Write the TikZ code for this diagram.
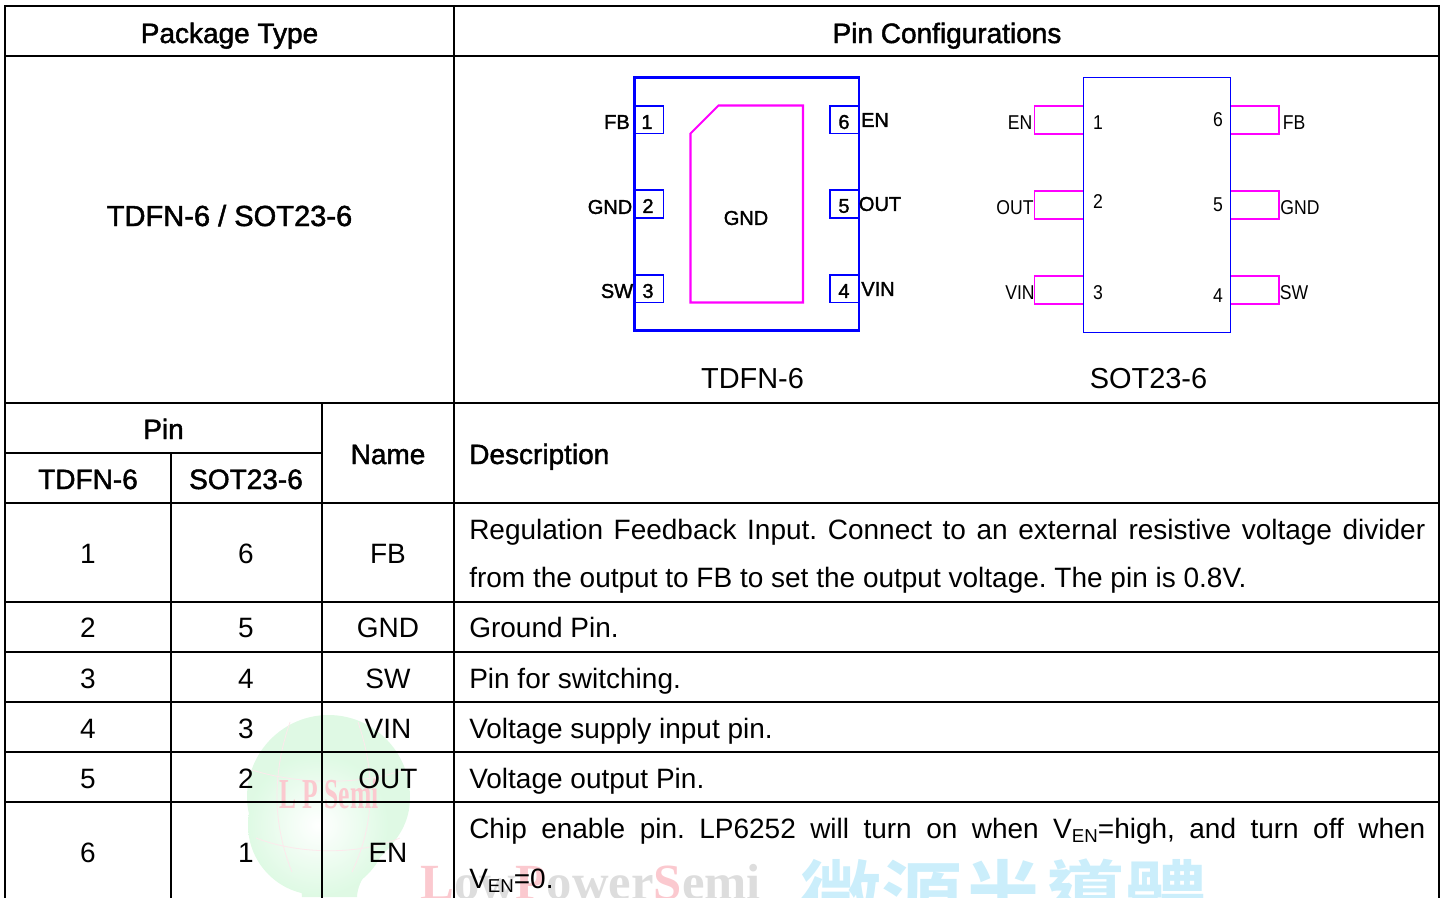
\documentclass[tikz,border=0pt]{standalone}
\usepackage{fontspec}
\setmainfont{Liberation Sans}
\newfontfamily\headfont[FakeBold=1.6]{Liberation Sans}
\newfontfamily\narrowfont[FakeStretch=0.88]{Liberation Sans}
\newfontfamily\serifmark{Liberation Serif Bold}
\newfontfamily\serifnarrow[FakeStretch=0.6]{Liberation Serif Bold}
\newfontfamily\cjkmark{Noto Sans CJK TC Bold}
\definecolor{pinblue}{HTML}{0000FF}
\definecolor{pinmagenta}{HTML}{FF00FF}
\definecolor{markgreen}{HTML}{C4F5CE}
\definecolor{markpink}{HTML}{FBC9CF}
\definecolor{markgray}{HTML}{DDDDDD}
\definecolor{markblue}{HTML}{CBEEFB}
\newcommand{\spreadline}[1]{\makebox[717pt][s]{#1}}
\newcommand{\vensub}{V\raisebox{-3.2pt}{\fontsize{14}{14}\selectfont EN}}
\newcommand{\pk}[1]{\textcolor{markpink}{#1}}
\frenchspacing
\tikzset{
	rule/.style={line width=1.5pt},
	bodytext/.style={inner sep=0, anchor=base, font=\fontsize{21}{21}\selectfont},
	desctext/.style={bodytext, anchor=base west},
	headtext/.style={bodytext, font=\fontsize{21}{21}\selectfont\headfont},
	headleft/.style={headtext, anchor=base west},
	boldpin/.style={inner sep=0, font=\fontsize{15}{15}\selectfont\headfont},
	thinpin/.style={inner sep=0, font=\fontsize{15}{15}\selectfont\narrowfont},
	capname/.style={inner sep=0, anchor=base, font=\fontsize{21.7}{21.7}\selectfont},
	padline/.style={line width=0.85pt},
	bodyline/.style={line width=1.55pt},
}
\begin{document}
\begin{tikzpicture}[x=0.75pt, y=-0.75pt]
	\useasboundingbox (0,0) rectangle (1443,897);
	\clip (0,0) rectangle (1443,897);

	% Draw the watermark first
	\fill[markgreen!55] (302,897) .. controls (300,860) and (247,850) .. (247,797)
		arc[start angle=180, end angle=360, x radius=81.5, y radius=82]
		.. controls (410,850) and (359,860) .. (357,897) -- cycle;
	\shade[inner color=white, outer color=markgreen!55] (318,825) circle (70);
	\draw[markpink!40, line width=0.6pt] (290,722) .. controls (270,780) and (275,830) .. (292,872);
	\draw[markpink!40, line width=0.6pt] (358,722) .. controls (378,780) and (372,830) .. (352,872);
	\draw[markpink!40, line width=0.6pt] (252,770) .. controls (300,785) and (360,785) .. (404,770);
	\draw[markpink!40, line width=0.6pt] (256,838) .. controls (300,855) and (360,855) .. (400,838);
	\node[inner sep=0, text=markpink, font=\fontsize{32}{32}\selectfont\serifnarrow] (markLP) at (329,794) {L P Semi};
	\node[inner sep=0, anchor=base west, text=markgray, font=\fontsize{38}{38}\selectfont\serifmark] (markLow) at (420,899) {\pk{L}ow\pk{P}ower\pk{S}emi};
	\node[inner sep=0, anchor=west, text=markblue, font=\fontsize{61}{61}\selectfont\cjkmark] (markCn) at (800,897) {微源半導體};

	% Draw the table lines
	\draw[rule] (5,6) rectangle (1439,910);
	\draw[rule] (454,6) -- (454,910);
	\draw[rule] (5,56) -- (1439,56);
	\draw[rule] (5,403) -- (1439,403);
	\draw[rule] (5,453) -- (322,453);
	\draw[rule] (5,503) -- (1439,503);
	\draw[rule] (5,602) -- (1439,602);
	\draw[rule] (5,652) -- (1439,652);
	\draw[rule] (5,702) -- (1439,702);
	\draw[rule] (5,752) -- (1439,752);
	\draw[rule] (5,802) -- (1439,802);
	\draw[rule] (322,403) -- (322,910);
	\draw[rule] (171,453) -- (171,910);

	% Header cells
	\node[headtext] (pkgHead) at (229.5,43) {Package Type};
	\node[headtext] (cfgHead) at (947,43) {Pin Configurations};
	\node[headtext, font=\fontsize{21.8}{21.8}\selectfont\headfont] (pkgType) at (229.5,226) {TDFN-6 / SOT23-6};
	\node[headtext] (pinHead) at (163.5,439) {Pin};
	\node[headtext] (nameHead) at (388,464) {Name};
	\node[headleft] (descHead) at (469,464) {Description};
	\node[headtext] (tdfnHead) at (88,489) {TDFN-6};
	\node[headtext] (sotHead) at (246,489) {SOT23-6};

	% Draw the TDFN package
	\draw[pinblue, padline] (635,106) rectangle (663.5,133.5);
	\draw[pinblue, padline] (635,190) rectangle (663.5,218);
	\draw[pinblue, padline] (635,275) rectangle (663.5,302.5);
	\draw[pinblue, padline] (830,106) rectangle (859,133.5);
	\draw[pinblue, padline] (830,190) rectangle (859,218);
	\draw[pinblue, padline] (830,275) rectangle (859,302.5);
	\draw[pinblue, bodyline] (634.5,77.5) rectangle (859,330.5);
	\draw[pinmagenta, bodyline] (690.5,133.5) -- (718.5,105.5) -- (803,105.5) -- (803,302.5) -- (690.5,302.5) -- cycle;

	\node[boldpin] (tdfnFB) at (617,122) {FB};
	\node[boldpin] (tdfnA) at (647,122) {1};
	\node[boldpin] (tdfnGNDa) at (610,207) {GND};
	\node[boldpin] (tdfnB) at (648,206) {2};
	\node[boldpin] (tdfnSW) at (617,291) {SW};
	\node[boldpin] (tdfnC) at (648,291) {3};
	\node[boldpin] (tdfnF) at (844,122) {6};
	\node[boldpin] (tdfnEN) at (875,120) {EN};
	\node[boldpin] (tdfnE) at (844,206) {5};
	\node[boldpin] (tdfnOUT) at (880,204) {OUT};
	\node[boldpin] (tdfnD) at (844,291) {4};
	\node[boldpin] (tdfnVIN) at (878,289) {VIN};
	\node[boldpin] (tdfnGNDb) at (746,218) {GND};
	\node[capname] (tdfnCap) at (752.5,388) {TDFN-6};

	% Draw the SOT package
	\draw[pinmagenta, padline] (1034.5,106) rectangle (1083.7,134);
	\draw[pinmagenta, padline] (1034.5,191) rectangle (1083.7,219);
	\draw[pinmagenta, padline] (1034.5,276) rectangle (1083.7,304);
	\draw[pinmagenta, padline] (1230.3,106) rectangle (1279,134);
	\draw[pinmagenta, padline] (1230.3,191) rectangle (1279,219);
	\draw[pinmagenta, padline] (1230.3,276) rectangle (1279,304);
	\draw[pinblue, padline] (1083.7,77.5) rectangle (1230.3,332.5);

	\node[thinpin] (sotEN) at (1020,122.5) {EN};
	\node[thinpin] (sotA) at (1098,122.5) {1};
	\node[thinpin] (sotF) at (1218,120) {6};
	\node[thinpin] (sotFB) at (1294,122.5) {FB};
	\node[thinpin] (sotOUT) at (1015,207.5) {OUT};
	\node[thinpin] (sotB) at (1098,201.5) {2};
	\node[thinpin] (sotE) at (1218,204.5) {5};
	\node[thinpin] (sotGND) at (1300,207.5) {GND};
	\node[thinpin] (sotVIN) at (1020,292.5) {VIN};
	\node[thinpin] (sotC) at (1098,292.5) {3};
	\node[thinpin] (sotD) at (1218,295.5) {4};
	\node[thinpin] (sotSW) at (1294,292.5) {SW};
	\node[capname] (sotCap) at (1148.5,388) {SOT23-6};

	% Pin rows
	\node[bodytext] (tdfnRowA) at (88,563) {1};
	\node[bodytext] (sotRowA) at (246,563) {6};
	\node[bodytext] (nameRowA) at (388,563) {FB};
	\node[desctext] (descRowA) at (469,539) {\spreadline{Regulation Feedback Input. Connect to an external resistive voltage divider}};
	\node[desctext] (descRowAb) at (469,587) {from the output to FB to set the output voltage. The pin is 0.8V.};

	\node[bodytext] (tdfnRowB) at (88,637) {2};
	\node[bodytext] (sotRowB) at (246,637) {5};
	\node[bodytext] (nameRowB) at (388,637) {GND};
	\node[desctext] (descRowB) at (469,637) {Ground Pin.};

	\node[bodytext] (tdfnRowC) at (88,688) {3};
	\node[bodytext] (sotRowC) at (246,688) {4};
	\node[bodytext] (nameRowC) at (388,688) {SW};
	\node[desctext] (descRowC) at (469,688) {Pin for switching.};

	\node[bodytext] (tdfnRowD) at (88,738) {4};
	\node[bodytext] (sotRowD) at (246,738) {3};
	\node[bodytext] (nameRowD) at (388,738) {VIN};
	\node[desctext] (descRowD) at (469,738) {Voltage supply input pin.};

	\node[bodytext] (tdfnRowE) at (88,788) {5};
	\node[bodytext] (sotRowE) at (246,788) {2};
	\node[bodytext] (nameRowE) at (388,788) {OUT};
	\node[desctext] (descRowE) at (469,788) {Voltage output Pin.};

	\node[bodytext] (tdfnRowF) at (88,862) {6};
	\node[bodytext] (sotRowF) at (246,862) {1};
	\node[bodytext] (nameRowF) at (388,862) {EN};
	\node[desctext] (descRowF) at (469,838) {\spreadline{Chip enable pin. LP6252 will turn on when \vensub=high, and turn off when}};
	\node[desctext] (descRowFb) at (469,888) {\vensub=0.};
\end{tikzpicture}
\end{document}
